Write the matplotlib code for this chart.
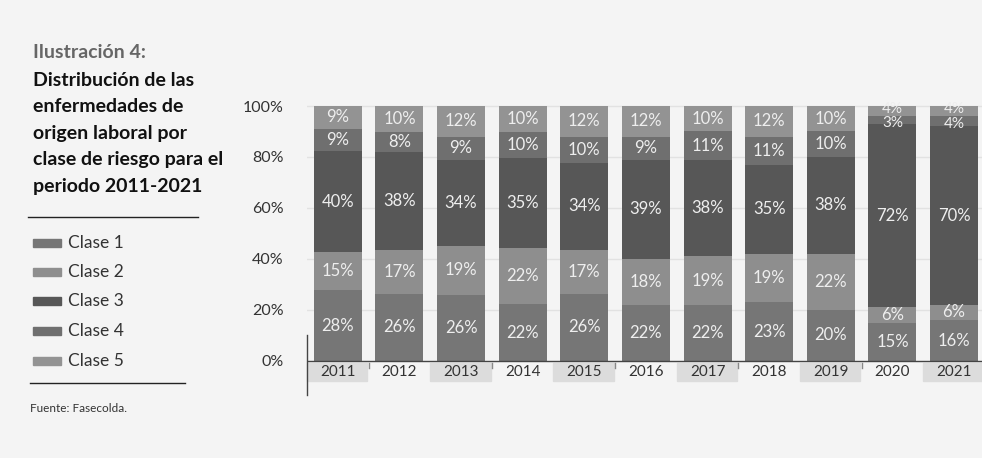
import numpy as np
import matplotlib
matplotlib.use("Agg")
import matplotlib.pyplot as plt
from matplotlib.patches import Rectangle
from matplotlib import font_manager

years = ['2011', '2012', '2013', '2014', '2015', '2016', '2017', '2018', '2019', '2020', '2021']
clase1 = [28, 26, 26, 22, 26, 22, 22, 23, 20, 15, 16]
clase2 = [15, 17, 19, 22, 17, 18, 19, 19, 22, 6, 6]
clase3 = [40, 38, 34, 35, 34, 39, 38, 35, 38, 72, 70]
clase4 = [9, 8, 9, 10, 10, 9, 11, 11, 10, 3, 4]
clase5 = [9, 10, 12, 10, 12, 12, 10, 12, 10, 4, 4]
series_names = ['Clase 1', 'Clase 2', 'Clase 3', 'Clase 4', 'Clase 5']
colors = ['#767676', '#8e8e8e', '#575757', '#6f6f6f', '#939393']

names = {f.name for f in font_manager.fontManager.ttflist}
narrow = 'Liberation Sans Narrow' if 'Liberation Sans Narrow' in names else 'Lato'
plt.rcParams['font.family'] = [narrow, 'DejaVu Sans']

W, H = 982, 458
fig = plt.figure(figsize=(W / 100, H / 100), dpi=100, facecolor='#f4f4f4')

# axes placed in pixel terms
ymin, ymax = -9, 100.5
px_per = 2.54
top_px = 106 - 0.5 * px_per
bot_px = 361 + 9 * px_per
ax = fig.add_axes([307 / W, 1 - bot_px / H, (983 - 307) / W, (bot_px - top_px) / H])
ax.set_facecolor('none')
ax.set_xlim(-0.5, 10.47)
ax.set_ylim(ymin, ymax)
for s in ax.spines.values():
    s.set_visible(False)

data = np.array([clase1, clase2, clase3, clase4, clase5], dtype=float)
totals = data.sum(axis=0)
shares = data / totals * 100
x = np.arange(len(years))

for g in [20, 40, 60, 80, 100]:
    ax.axhline(g, color='#e2e2e2', lw=1, zorder=0)

bottom = np.zeros(len(years))
for k, (vals, pct, col) in enumerate(zip(data, shares, colors)):
    ax.bar(x, pct, bottom=bottom, width=0.78, color=col, zorder=2)
    for xi, b, p, v in zip(x, bottom, pct, vals):
        yc = b + p / 2
        fs = 12
        if p < 5:
            # thin top segments: nudge labels apart like the original
            yc += 1.0 if k == 4 else -1.0
            fs = 11
        ax.text(xi, yc, f'{int(v)}%', ha='center', va='center',
                color='#eeeeee', fontsize=fs, zorder=3)
    bottom += pct

ax.axhline(0, color='#444444', lw=1, zorder=3)

# year label boxes
for i, yr in enumerate(years):
    if i % 2 == 0:
        ax.add_patch(Rectangle((i - 0.5, -7.9), 0.98, 7.1, color='#dcdcdc',
                               zorder=1, clip_on=False))
        if i < len(years) - 1:
            ax.plot([i + 0.5, i + 0.5], [-0.8, -2.6], color='#888888', lw=1,
                    clip_on=False)
    ax.text(i, -4.4, yr, ha='center', va='center', fontsize=11, color='#333333')

ax.plot([-0.5, -0.5], [10.2, -13.4], color='#444444', lw=1, clip_on=False)

ax.set_xticks([])
ax.set_yticks([0, 20, 40, 60, 80, 100])
ax.set_yticklabels(['0%', '20%', '40%', '60%', '80%', '100%'], fontsize=11.5, color='#333333')
ax.tick_params(axis='y', length=0, pad=17)

# left panel
fig.text(33 / W, 1 - 52 / H, 'Ilustración 4:', fontsize=14, fontweight='bold',
         color='#666666', va='center')
title_lines = ['Distribución de las', 'enfermedades de', 'origen laboral por',
               'clase de riesgo para el', 'periodo 2011-2021']
for k, line in enumerate(title_lines):
    fig.text(33 / W, 1 - (80 + 26.6 * k) / H, line, fontsize=14, fontweight='bold',
             color='#111111', va='center')
fig.add_artist(plt.Line2D([28 / W, 198 / W], [1 - 217 / H] * 2, color='#222222', lw=1))

leg_y = [243, 272, 301, 331, 361]
for name, col, yy in zip(series_names, colors, leg_y):
    fig.add_artist(Rectangle((33 / W, 1 - (yy + 4) / H), 28 / W, 8 / H,
                             color=col, transform=fig.transFigure))
    fig.text(68 / W, 1 - yy / H, name, fontsize=12.5, color='#333333', va='center')
fig.add_artist(plt.Line2D([30 / W, 185 / W], [1 - 383 / H] * 2, color='#222222', lw=1))
fig.text(30 / W, 1 - 409 / H, 'Fuente: Fasecolda.', fontsize=8.5, color='#333333', va='center')

fig.savefig('out.png', dpi=100, facecolor=fig.get_facecolor())
